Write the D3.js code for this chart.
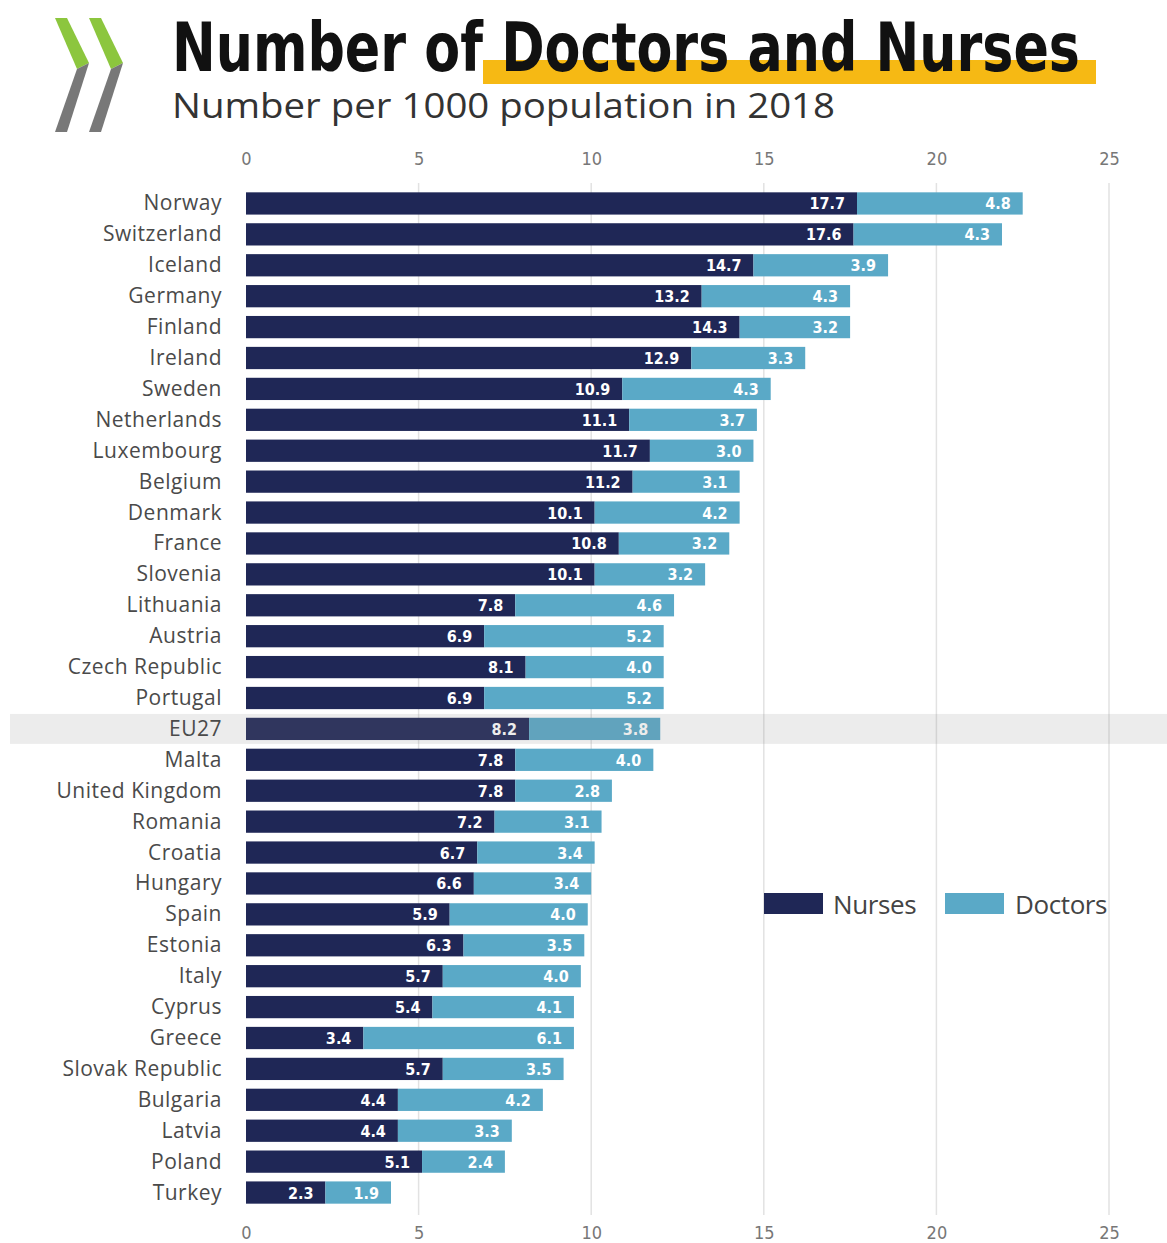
<!DOCTYPE html>
<html>
<head>
<meta charset="utf-8">
<script src="https://cdn.jsdelivr.net/npm/d3@7/dist/d3.min.js"></script>
<style>
  html, body { margin: 0; padding: 0; background: #fff; }
  svg { display: block; }
</style>
</head>
<body>
<svg id="chart" width="1167" height="1243"></svg>
<script>
// Nurses and doctors per 1000 population, 2018
const countries = ["Norway","Switzerland","Iceland","Germany","Finland","Ireland","Sweden","Netherlands","Luxembourg","Belgium","Denmark","France","Slovenia","Lithuania","Austria","Czech Republic","Portugal","EU27","Malta","United Kingdom","Romania","Croatia","Hungary","Spain","Estonia","Italy","Cyprus","Greece","Slovak Republic","Bulgaria","Latvia","Poland","Turkey"];
const nurses = [17.7,17.6,14.7,13.2,14.3,12.9,10.9,11.1,11.7,11.2,10.1,10.8,10.1,7.8,6.9,8.1,6.9,8.2,7.8,7.8,7.2,6.7,6.6,5.9,6.3,5.7,5.4,3.4,5.7,4.4,4.4,5.1,2.3];
const doctors = [4.8,4.3,3.9,4.3,3.2,3.3,4.3,3.7,3.0,3.1,4.2,3.2,3.2,4.6,5.2,4.0,5.2,3.8,4.0,2.8,3.1,3.4,3.4,4.0,3.5,4.0,4.1,6.1,3.5,4.2,3.3,2.4,1.9];
const xTicks = [0,5,10,15,20,25];
const seriesNames = ["Nurses","Doctors"];
const highlighted = "EU27";

const NURSE = "#1f2756";
const DOCTOR = "#5aa9c7";

const rows = countries.map((c, i) => ({country: c, nurses: nurses[i], doctors: doctors[i]}));

const svg = d3.select("#chart");

const x = d3.scaleLinear().domain([0, 25]).range([246, 1109]);
const y = d3.scaleBand().domain(countries).range([188, 1208])
  .paddingInner(0.28).paddingOuter(0.14);

// ---- header: double-chevron logo ----
const logo = svg.append("g");
[0, 34].forEach(dx => {
  const shift = pts => pts.map(p => [p[0] + dx, p[1]].join(",")).join(" ");
  logo.append("polygon")
    .attr("points", shift([[55,18],[67,18],[89,63],[77,69]]))
    .attr("fill", "#8cc63e");
  logo.append("polygon")
    .attr("points", shift([[77,69],[89,63],[67,132],[55,132]]))
    .attr("fill", "#787878");
});

// title highlight strip
svg.append("rect").attr("x", 483).attr("y", 60).attr("width", 613).attr("height", 24).attr("fill", "#f6b914");

svg.append("text")
  .attr("x", 172).attr("y", 71)
  .attr("textLength", 908).attr("lengthAdjust", "spacingAndGlyphs")
  .style("font-family", "'Liberation Sans Narrow','DejaVu Sans Condensed',sans-serif")
  .style("font-weight", "bold").style("font-size", "68px").attr("fill", "#111")
  .text("Number of Doctors and Nurses");

svg.append("text")
  .attr("x", 172).attr("y", 118)
  .attr("textLength", 663).attr("lengthAdjust", "spacingAndGlyphs")
  .style("font-family", "'Open Sans',sans-serif").style("font-size", "34px").attr("fill", "#333")
  .text("Number per 1000 population in 2018");

// ---- gridlines ----
svg.append("g").selectAll("line").data(xTicks.filter(d => d > 0)).join("line")
  .attr("x1", d => x(d)).attr("x2", d => x(d))
  .attr("y1", 183).attr("y2", 1215)
  .attr("stroke", "#e2e2e2").attr("stroke-width", 1.5);

// ---- axes (top and bottom) ----
function styleAxis(g) {
  g.select(".domain").remove();
  g.selectAll(".tick line").remove();
  g.selectAll(".tick text")
    .style("font-family", "'Liberation Sans Narrow','DejaVu Sans Condensed',sans-serif")
    .style("font-size", "18px").attr("fill", "#777");
}
svg.append("g").attr("transform", "translate(0,165)")
  .call(d3.axisTop(x).tickValues(xTicks).tickSize(0).tickPadding(0)).call(styleAxis);
svg.append("g").attr("transform", "translate(0,1226)")
  .call(d3.axisBottom(x).tickValues(xTicks).tickSize(0).tickPadding(0)).call(styleAxis);

// ---- bars ----
const barG = svg.append("g");
barG.selectAll("rect.nurse").data(rows).join("rect").attr("class", "nurse")
  .attr("x", x(0)).attr("y", d => y(d.country))
  .attr("width", d => x(d.nurses) - x(0)).attr("height", y.bandwidth())
  .attr("fill", NURSE);
barG.selectAll("rect.doctor").data(rows).join("rect").attr("class", "doctor")
  .attr("x", d => x(d.nurses)).attr("y", d => y(d.country))
  .attr("width", d => x(d.nurses + d.doctors) - x(d.nurses)).attr("height", y.bandwidth())
  .attr("fill", DOCTOR);

// value labels inside each segment
const valFont = "'Liberation Sans Narrow','DejaVu Sans Condensed',sans-serif";
barG.selectAll("text.nv").data(rows).join("text").attr("class", "nv")
  .attr("x", d => x(d.nurses) - 12).attr("y", d => y(d.country) + y.bandwidth() / 2 + 6)
  .attr("text-anchor", "end").style("font-family", valFont).style("font-weight", "bold")
  .style("font-size", "16px").attr("fill", "#fff").text(d => d.nurses.toFixed(1));
barG.selectAll("text.dv").data(rows).join("text").attr("class", "dv")
  .attr("x", d => x(d.nurses + d.doctors) - 12).attr("y", d => y(d.country) + y.bandwidth() / 2 + 6)
  .attr("text-anchor", "end").style("font-family", valFont).style("font-weight", "bold")
  .style("font-size", "16px").attr("fill", "#fff").text(d => d.doctors.toFixed(1));

// EU average row band
svg.append("rect")
  .attr("x", 10).attr("y", y(highlighted) + y.bandwidth() / 2 - 15)
  .attr("width", 1157).attr("height", 30)
  .attr("fill", "#8a8a8a").attr("opacity", 0.16);

// ---- category labels ----
svg.append("g").selectAll("text").data(countries).join("text")
  .attr("x", 222).attr("y", d => y(d) + y.bandwidth() / 2 + 7)
  .attr("text-anchor", "end")
  .style("font-family", "'Open Sans',sans-serif").style("font-size", "21px")
  .style("letter-spacing", "0.5px").attr("fill", "#4a4a4a")
  .text(d => d);

// ---- legend ----
const legend = svg.append("g");
const legendItems = [
  {name: seriesNames[0], color: NURSE, sx: 764, tx: 833},
  {name: seriesNames[1], color: DOCTOR, sx: 945, tx: 1015}
];
legend.selectAll("rect").data(legendItems).join("rect")
  .attr("x", d => d.sx).attr("y", 893).attr("width", 59).attr("height", 21)
  .attr("fill", d => d.color);
legend.selectAll("text").data(legendItems).join("text")
  .attr("x", d => d.tx).attr("y", 914)
  .style("font-family", "'Open Sans',sans-serif").style("font-size", "26px")
  .style("letter-spacing", "-0.4px").attr("fill", "#444")
  .text(d => d.name);
</script>
</body>
</html>
